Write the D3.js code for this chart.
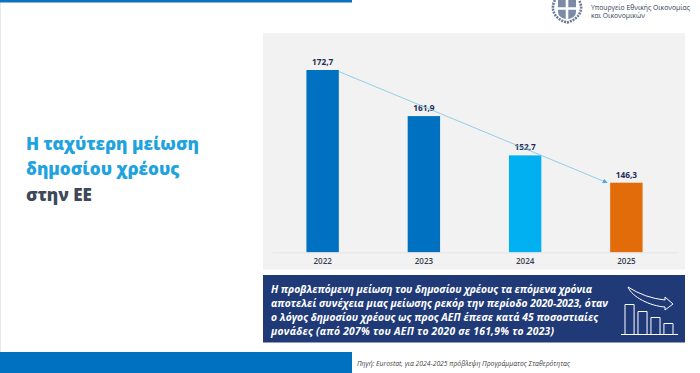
<!DOCTYPE html>
<html><head><meta charset="utf-8">
<script src="https://cdn.jsdelivr.net/npm/d3@7/dist/d3.min.js"></script>
<style>html,body{margin:0;padding:0;background:#fff;overflow:hidden}svg{display:block}text{font-family:"Open Sans","Noto Sans",sans-serif}</style>
</head><body><svg id="c" width="700" height="373"></svg>
<script>
const years = ["2022","2023","2024","2025"];
const debt = [172.7,161.9,152.7,146.3];
const barColors = ["#0070c0","#0070c0","#00b0f0","#e36c0a"];
const titleLines = ["Η ταχύτερη μείωση","δημοσίου χρέους","στην ΕΕ"];
const boxLines = ["Η προβλεπόμενη μείωση του δημοσίου χρέους τα επόμενα χρόνια","αποτελεί συνέχεια μιας μείωσης ρεκόρ την περίοδο 2020-2023, όταν","ο λόγος δημοσίου χρέους ως προς ΑΕΠ έπεσε κατά 45 ποσοστιαίες","μονάδες (από 207% του ΑΕΠ το 2020 σε 161,9% το 2023)"];
const sourceText = "Πηγή: Eurostat, για 2024-2025 πρόβλεψη Προγράμματος Σταθερότητας";
const ministry = ["Υπουργείο Εθνικής Οικονομίας","και Οικονομικών"];
const iconBars = [30,23,17,11];

const svg = d3.select("#c");
const fmt = v => String(v).replace(".",",");
svg.append("rect").attr("width",700).attr("height",373).attr("fill","#fff");
svg.append("rect").attr("x",0).attr("y",0).attr("width",1).attr("height",352).attr("fill","#e8e8e8");
svg.append("rect").attr("x",0).attr("y",0).attr("width",352).attr("height",2.5).attr("fill","#0f71bd");
svg.append("rect").attr("x",0).attr("y",352).attr("width",352).attr("height",21).attr("fill","#0070c0");
svg.append("rect").attr("x",263).attr("y",33).attr("width",422).attr("height",236.5).attr("fill","#f2f2f2");

const x = d3.scaleBand().domain(years).range([272,677]).paddingInner(0.68).paddingOuter(0.34);
const y = d3.scaleLinear().domain([130,172.7]).range([252.3,70]);

svg.append("g").selectAll("rect").data(years).join("rect")
  .attr("x",d=>x(d)).attr("width",x.bandwidth())
  .attr("y",(d,i)=>y(debt[i])).attr("height",(d,i)=>y(130)-y(debt[i]))
  .attr("fill",(d,i)=>barColors[i]);

const axis = svg.append("g").attr("transform",`translate(0,${y(130)})`)
  .call(d3.axisBottom(x).tickSize(0).tickPadding(6.5));
axis.select(".domain").attr("stroke","#e2e2e2").attr("stroke-width",0.8);
axis.selectAll("text").attr("font-size",8).attr("font-weight",600).attr("fill","#333f50").attr("font-family",'"Open Sans",sans-serif');

svg.append("g").selectAll("text").data(years).join("text")
  .attr("x",d=>x(d)+x.bandwidth()/2).attr("y",(d,i)=>y(debt[i])-5)
  .attr("text-anchor","middle").attr("font-size",8.3).attr("font-weight",700).attr("fill","#1f2f55")
  .text((d,i)=>fmt(debt[i]));

svg.append("defs").append("marker").attr("id","ah").attr("viewBox","0 0 6 6").attr("refX",5.5).attr("refY",3)
  .attr("markerWidth",5).attr("markerHeight",5).attr("markerUnits","userSpaceOnUse").attr("orient","auto")
  .append("path").attr("d","M0,0L6,3L0,6Z").attr("fill","#4fa8d8");
svg.append("line")
  .attr("x1",x(years[0])+x.bandwidth()).attr("y1",y(debt[0])+1.5)
  .attr("x2",x(years[3])-3).attr("y2",y(debt[3]))
  .attr("stroke","#7cc4e6").attr("stroke-width",0.8).attr("marker-end","url(#ah)");

const tY=[149.5,175,201], tC=["#1fa3df","#1fa3df","#3d4859"];
svg.append("g").selectAll("text").data(titleLines).join("text")
  .attr("x",26).attr("y",(d,i)=>tY[i]).attr("font-size",17.1).attr("font-weight",800)
  .attr("fill",(d,i)=>tC[i]).text(d=>d);

svg.append("rect").attr("x",263).attr("y",275).attr("width",422).attr("height",67.5).attr("fill","#203a78");
const bY=[293,306.5,320.5,334.5], bW=[321,337,327,283];
svg.append("g").selectAll("text").data(boxLines).join("text")
  .attr("x",271).attr("y",(d,i)=>bY[i]).attr("font-size",10.3).attr("font-weight",700).attr("font-style","italic")
  .attr("textLength",(d,i)=>bW[i]).attr("lengthAdjust","spacing")
  .attr("fill","#fff").text(d=>d);

const ic = svg.append("g").attr("fill","none").attr("stroke","#fff").attr("stroke-width",1);
ic.append("line").attr("x1",621).attr("x2",678).attr("y1",334.5).attr("y2",334.5);
const ix = d3.scaleBand().domain(d3.range(iconBars.length)).range([625,673]).paddingInner(0.3);
ic.selectAll("path.b").data(iconBars).join("path").attr("class","b")
  .attr("d",(d,i)=>`M${ix(i)},334.5V${334.5-d}H${ix(i)+ix.bandwidth()}V334.5`);
ic.append("path").attr("d","M628,287Q645,298 665,300");
ic.append("path").attr("d","M628,287C632,297 650,306 665,307");
ic.append("path").attr("d","M665,300V297L673,304L665,310V307");

svg.append("text").attr("x",357).attr("y",365.5).attr("font-size",6.8).attr("font-style","italic").attr("fill","#444").text(sourceText);

svg.append("g").selectAll("text").data(ministry).join("text")
  .attr("x",591).attr("y",(d,i)=>[9.5,18][i]).attr("font-size",6.8).attr("fill","#33405a").text(d=>d);

const em = svg.append("g").attr("fill","none").attr("stroke","#6b7a96");
em.append("path").attr("d","M555,0C550,9 554,19 567,22.5C580,19 584,9 579,0").attr("stroke-width",2.6).attr("stroke-dasharray","2 1");
em.append("path").attr("d","M558,0V12Q558,17.5 567,19.5Q576,17.5 576,12V0Z").attr("stroke","none").attr("fill","#7b8aa6");
em.append("path").attr("d","M567,0V19.5M558,8.5H576").attr("stroke","#fff").attr("stroke-width",2.6);
</script></body></html>
